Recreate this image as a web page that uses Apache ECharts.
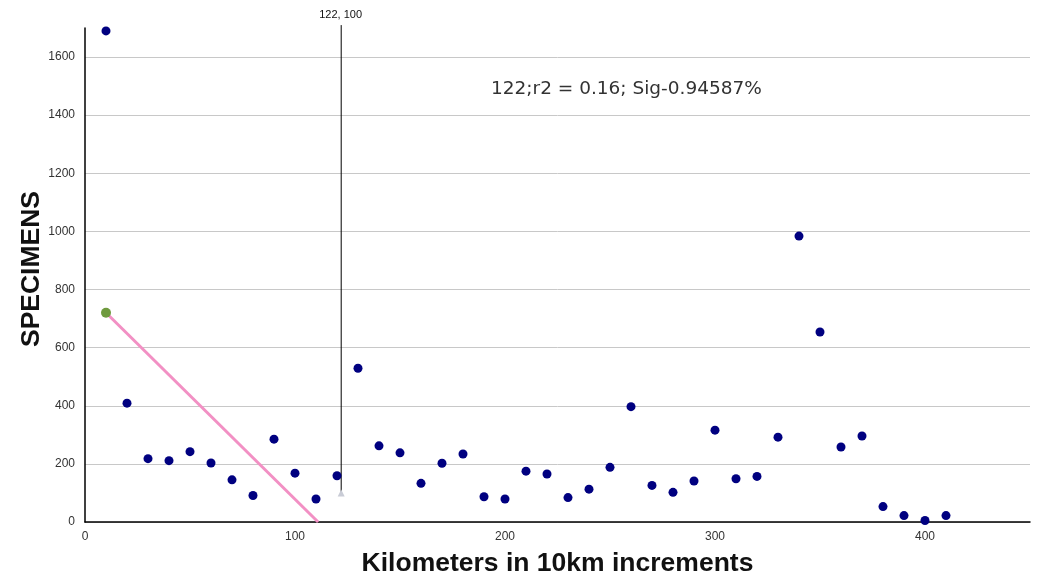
<!DOCTYPE html>
<html>
<head>
<meta charset="utf-8">
<script src="https://cdn.jsdelivr.net/npm/echarts@6/dist/echarts.min.js"></script>
<style>
  html, body { margin: 0; padding: 0; background: #fff; }
  #chart { width: 1038px; height: 580px; }
</style>
</head>
<body>
<div id="chart"></div>
<script>
// Distance bins (km) and specimen counts per bin
const distances = [10, 20, 30, 40, 50, 60, 70, 80, 90, 100,
                   110, 120, 130, 140, 150, 160, 170, 180, 190, 200,
                   210, 220, 230, 240, 250, 260, 270, 280, 290, 300,
                   310, 320, 330, 340, 350, 360, 370, 380, 390, 400, 410];
const specimens = [1690, 409, 218, 211, 242, 203, 145, 91, 285, 168,
                   79, 159, 529, 262, 238, 133, 202, 234, 87, 79,
                   175, 165, 84, 113, 188, 397, 126, 102, 141, 316,
                   149, 157, 292, 984, 654, 258, 296, 53, 22, 5, 22];

// Fitted segment start/end and breakpoint marker
const fitStart = [10, 720];
const fitEnd = [111, 0];
const breakPoint = [122, 100];
const breakTop = 1710;
const statsText = '122;r2 = 0.16; Sig-0.94587%';

const points = distances.map((d, i) => [d, specimens[i]]);

const chart = echarts.init(document.getElementById('chart'), null, { renderer: 'canvas' });

const labelFont = 'Liberation Sans, Arial, sans-serif';
const yMax = 1700;
const yStep = 200;
// gray gridlines at each step, none at the axis ceiling
const gridColors = [];
for (let v = 0; v <= yMax; v += yStep) gridColors.push('#c8c8c8');
gridColors.push('rgba(0,0,0,0)');

chart.setOption({
  backgroundColor: '#ffffff',
  animation: false,
  grid: { left: 85, right: 8, top: 28, bottom: 58, containLabel: false, outerBoundsMode: 'none' },
  xAxis: {
    type: 'value',
    min: 0,
    max: 450,
    interval: 100,
    name: 'Kilometers in 10km increments',
    nameLocation: 'middle',
    nameGap: 28,
    nameMoveOverlap: false,
    nameTextStyle: { fontFamily: labelFont, fontSize: 26.5, fontWeight: 'bold', color: '#111' },
    axisLine: { show: true, lineStyle: { color: '#000', width: 1.5 } },
    axisTick: { show: false },
    axisLabel: { color: '#333', fontSize: 12, fontFamily: labelFont, margin: 9,
                 formatter: v => (v <= 400 ? v : '') },
    splitLine: { show: false }
  },
  yAxis: {
    type: 'value',
    min: 0,
    max: yMax,
    interval: yStep,
    name: 'SPECIMENS',
    nameLocation: 'middle',
    nameGap: 40,
    nameMoveOverlap: false,
    nameTextStyle: { fontFamily: labelFont, fontSize: 26.5, fontWeight: 'bold', color: '#111',
                     padding: [0, 0, 0, 12] },
    axisLine: { show: true, lineStyle: { color: '#000', width: 1.5 } },
    axisTick: { show: false },
    axisLabel: { color: '#333', fontSize: 12, fontFamily: labelFont, margin: 10,
                 formatter: v => (v <= 1600 ? v : '') },
    splitLine: { show: true, lineStyle: { color: gridColors, width: 1 } }
  },
  graphic: [{
    type: 'text',
    left: 491,
    top: 80,
    style: { text: statsText, fontSize: 18.5, fontFamily: 'DejaVu Sans, Verdana, sans-serif', fill: '#333' }
  }],
  series: [
    {
      name: 'fit',
      type: 'line',
      data: [fitStart, fitEnd],
      symbol: 'none',
      lineStyle: { color: '#f290c4', width: 3 },
      z: 2
    },
    {
      name: 'fitStart',
      type: 'scatter',
      data: [fitStart],
      symbolSize: 10,
      itemStyle: { color: '#6f9a3e', opacity: 1 },
      z: 4
    },
    {
      name: 'breakpoint',
      type: 'line',
      data: [breakPoint, [breakPoint[0], breakTop]],
      clip: false,
      symbol: 'none',
      lineStyle: { color: '#000', width: 1 },
      endLabel: {
        show: true,
        formatter: () => breakPoint[0] + ', ' + breakPoint[1],
        fontSize: 11,
        fontFamily: labelFont,
        color: '#111',
        offset: [-30, -10]
      },
      z: 3
    },
    {
      name: 'breakMarker',
      type: 'scatter',
      data: [breakPoint],
      symbol: 'triangle',
      symbolSize: 7,
      itemStyle: { color: '#c9ccd6', opacity: 1 },
      z: 3
    },
    {
      name: 'specimens',
      type: 'scatter',
      data: points,
      symbolSize: 9,
      itemStyle: { color: '#000080', opacity: 1 },
      z: 5
    }
  ]
});
</script>
</body>
</html>
